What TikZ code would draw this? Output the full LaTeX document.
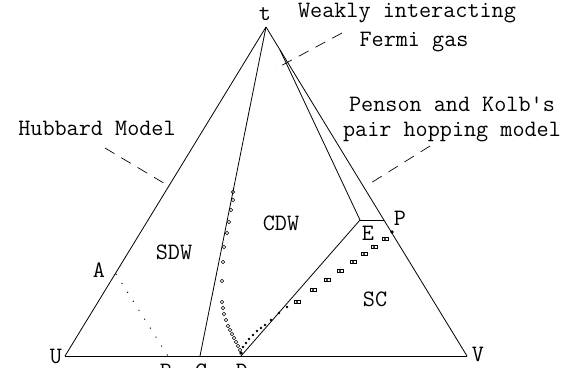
\documentclass[tikz,border=0pt]{standalone}
\usepackage{tikz}
\usetikzlibrary{positioning}

\begin{document}
\begin{tikzpicture}[x=1pt, y=-1pt, line width=0.8pt,
    lbl/.style={font=\ttfamily\fontsize{23.5}{25}\selectfont, inner sep=0pt},
    lead/.style={line width=0.7pt, dash pattern=on 11pt off 8pt}]
    \useasboundingbox (0,0) rectangle (569,367);

    % Corners of the phase diagram
    \coordinate (t) at (266,27);
    \coordinate (U) at (65,356);
    \coordinate (V) at (467,356);

    % Points on the boundaries
    \coordinate (A) at (116,274);
    \coordinate (B) at (168,356);
    \coordinate (C) at (200,356);
    \coordinate (D) at (241,356);
    \coordinate (E) at (360,220);
    \coordinate (P) at (384,220);
    \coordinate (F) at (280,50);

    % Triangle
    \draw (t) -- (U);
    \draw (t) -- (V);
    \draw[line width=0.9pt] (U) -- (V);

    % Phase boundaries
    \draw (t) -- (C);
    \draw (F) -- (E);
    \draw (E) -- (P);
    \draw (D) -- (E);
    \draw[line width=1pt, dash pattern=on 1pt off 9.6pt] (A) -- (B);

    % Data points, SDW side
    \foreach \x/\y in {233/192, 233/200, 231/210, 229/222, 227/233, 224/247,
        223/262, 222/281, 222/302, 223/308, 224/314, 226/320, 228/326,
        230/330, 232/334, 234/338, 236/342, 238/346, 240/350}
        \draw[line width=0.6pt] (\x,\y) circle (1.8pt);

    % Data points, SC side
    \foreach \x/\y in {243/347, 246/343, 249/339, 253/335, 257/331, 261/328,
        265/325, 271/320, 279/313, 287/307}
        \fill (\x,\y) circle (1.3pt);
    \foreach \x/\y in {297/302, 313/290, 327/280, 340/271, 353/262, 364/254,
        374/247, 385/239}
    {
        \draw[line width=0.6pt] (\x-3,\y-1.5) rectangle (\x+3,\y+1.5);
        \fill (\x,\y) circle (1.1pt);
    }
    \fill (241,353) circle (1.8pt);
    \fill (392,232) circle (1.8pt);

    % Corner and point labels
    \node[lbl] (tl) at (265,14) {t};
    \node[lbl] (Ul) at (56,356) {U};
    \node[lbl] (Vl) at (478,354) {V};
    \node[lbl] (Al) at (99,270) {A};
    \node[lbl] (El) at (368,233) {E};
    \node[lbl] (Pl) at (400,218) {P};
    \node[lbl] (Bl) at (166,371) {B};
    \node[lbl] (Cl) at (201,371) {C};
    \node[lbl] (Dl) at (242,371) {D};

    % Phases
    \node[lbl] (SDW) at (174,252) {SDW};
    \node[lbl] (CDW) at (281,223) {CDW};
    \node[lbl] (SC) at (375,299) {SC};

    % Models
    \node[lbl] (hub) at (97,128) {Hubbard Model};
    \node[lbl] (weak) at (407,13) {Weakly interacting};
    \node[lbl] (ferm) at (414,42) {Fermi gas};
    \node[lbl, align=center] (pk) at (452,119) {Penson and Kolb's\\pair hopping model};

    \coordinate (hub1) at (105,148);
    \coordinate (hub2) at (167,185);
    \coordinate (weak1) at (342,33);
    \coordinate (weak2) at (275,69);
    \coordinate (pk1) at (430,146);
    \coordinate (pk2) at (366,186);
    \draw[lead] (hub1) -- (hub2);
    \draw[lead] (weak1) -- (weak2);
    \draw[lead] (pk1) -- (pk2);
\end{tikzpicture}
\end{document}
